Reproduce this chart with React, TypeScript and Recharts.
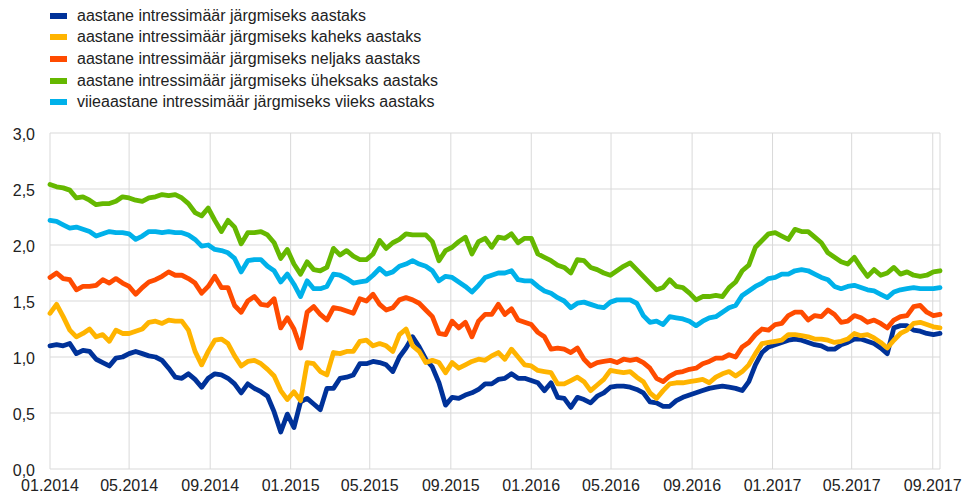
import React from 'react';
import { LineChart, Line, XAxis, YAxis, CartesianGrid, Legend } from 'recharts';

// Sample positions: days since 01.01.2014
const days = [
  0, 10, 20, 30, 40, 50, 60, 70, 80, 90,
  100, 110, 120, 130, 140, 150, 160, 170, 180, 190,
  200, 210, 220, 230, 240, 250, 260, 270, 280, 290,
  300, 310, 320, 330, 340, 350, 360, 370, 380, 390,
  400, 410, 420, 430, 440, 450, 460, 470, 480, 490,
  500, 510, 520, 530, 540, 550, 560, 570, 580, 590,
  600, 610, 620, 630, 640, 650, 660, 670, 680, 690,
  700, 710, 720, 730, 740, 750, 760, 770, 780, 790,
  800, 810, 820, 830, 840, 850, 860, 870, 880, 890,
  900, 910, 920, 930, 940, 950, 960, 970, 980, 990,
  1000, 1010, 1020, 1030, 1040, 1050, 1060, 1070, 1080, 1090,
  1100, 1110, 1120, 1130, 1140, 1150, 1160, 1170, 1180, 1190,
  1200, 1210, 1220, 1230, 1240, 1250, 1260, 1270, 1280, 1290,
  1300, 1310, 1320, 1330, 1340, 1350,
];

const tickDays = [0, 120, 243, 365, 485, 608, 730, 851, 974, 1096, 1216, 1339];
const tickLabels = [
  '01.2014', '05.2014', '09.2014', '01.2015', '05.2015', '09.2015',
  '01.2016', '05.2016', '09.2016', '01.2017', '05.2017', '09.2017',
];
const yTicks = [0, 0.5, 1, 1.5, 2, 2.5, 3];

const seriesNames = [
  'aastane intressimäär järgmiseks aastaks',
  'aastane intressimäär järgmiseks kaheks aastaks',
  'aastane intressimäär järgmiseks neljaks aastaks',
  'aastane intressimäär järgmiseks üheksaks aastaks',
  'viieaastane intressimäär järgmiseks viieks aastaks',
];
const seriesColors = ['#003299', '#FFB400', '#FF4B00', '#65B800', '#00B1EA'];

const oneYear = [
  1.10, 1.11, 1.10, 1.12, 1.03, 1.06, 1.05, 0.98, 0.95, 0.92,
  0.99, 1.00, 1.03, 1.05, 1.03, 1.01, 1.00, 0.97, 0.90, 0.82,
  0.81, 0.85, 0.80, 0.73, 0.81, 0.85, 0.84, 0.81, 0.76, 0.68,
  0.76, 0.72, 0.69, 0.65, 0.51, 0.33, 0.49, 0.37, 0.60, 0.63,
  0.58, 0.53, 0.72, 0.72, 0.81, 0.82, 0.84, 0.94, 0.94, 0.96,
  0.95, 0.93, 0.87, 1.00, 1.08, 1.18, 1.09, 0.98, 0.91, 0.77,
  0.57, 0.64, 0.63, 0.66, 0.68, 0.71, 0.76, 0.76, 0.80, 0.81,
  0.85, 0.81, 0.81, 0.79, 0.77, 0.70, 0.77, 0.64, 0.63, 0.55,
  0.64, 0.62, 0.59, 0.65, 0.68, 0.73, 0.74, 0.74, 0.73, 0.71,
  0.68, 0.60, 0.59, 0.56, 0.56, 0.61, 0.64, 0.66, 0.68, 0.70,
  0.72, 0.73, 0.74, 0.73, 0.72, 0.70, 0.78, 0.93, 1.04, 1.09,
  1.11, 1.13, 1.15, 1.16, 1.15, 1.13, 1.11, 1.10, 1.07, 1.07,
  1.11, 1.13, 1.16, 1.16, 1.14, 1.12, 1.08, 1.03, 1.26, 1.28,
  1.28, 1.24, 1.23, 1.21, 1.20, 1.21,
];

const twoYear = [
  1.39, 1.47, 1.36, 1.24, 1.18, 1.21, 1.25, 1.18, 1.20, 1.14,
  1.24, 1.21, 1.21, 1.23, 1.25, 1.31, 1.32, 1.30, 1.33, 1.32,
  1.32, 1.24, 1.05, 0.93, 1.05, 1.15, 1.16, 1.12, 1.01, 0.92,
  0.96, 0.97, 0.94, 0.89, 0.83, 0.70, 0.62, 0.69, 0.61, 0.95,
  0.94, 0.87, 0.84, 1.04, 1.03, 1.05, 1.05, 1.14, 1.15, 1.10,
  1.12, 1.10, 1.05, 1.20, 1.25, 1.10, 1.05, 0.95, 0.97, 0.95,
  0.86, 0.95, 0.90, 0.93, 0.96, 0.98, 0.97, 1.01, 1.04, 0.98,
  1.07, 1.00, 0.93, 0.92, 0.88, 0.87, 0.86, 0.76, 0.76, 0.79,
  0.82, 0.78, 0.70, 0.75, 0.80, 0.88, 0.87, 0.86, 0.87, 0.82,
  0.78, 0.68, 0.63, 0.70, 0.76, 0.77, 0.77, 0.78, 0.79, 0.80,
  0.77, 0.82, 0.85, 0.87, 0.83, 0.87, 0.93, 1.03, 1.12, 1.13,
  1.14, 1.15, 1.20, 1.20, 1.19, 1.18, 1.16, 1.16, 1.15, 1.13,
  1.14, 1.16, 1.21, 1.19, 1.20, 1.17, 1.13, 1.08, 1.15, 1.21,
  1.24, 1.30, 1.31, 1.29, 1.27, 1.26,
];

const fourYear = [
  1.71, 1.75, 1.70, 1.69, 1.60, 1.63, 1.63, 1.64, 1.69, 1.66,
  1.70, 1.66, 1.63, 1.56, 1.62, 1.67, 1.69, 1.72, 1.76, 1.73,
  1.73, 1.70, 1.66, 1.57, 1.63, 1.72, 1.62, 1.62, 1.46, 1.40,
  1.50, 1.54, 1.47, 1.46, 1.52, 1.26, 1.35, 1.25, 1.08, 1.40,
  1.45, 1.38, 1.33, 1.44, 1.43, 1.41, 1.39, 1.52, 1.50, 1.56,
  1.47, 1.42, 1.44, 1.51, 1.53, 1.51, 1.48, 1.42, 1.36, 1.21,
  1.20, 1.32, 1.26, 1.31, 1.18, 1.32, 1.38, 1.38, 1.47, 1.38,
  1.43, 1.33, 1.31, 1.29, 1.22, 1.18, 1.07, 1.08, 1.07, 1.04,
  1.08, 0.98, 0.92, 0.95, 0.96, 0.97, 0.95, 0.98, 0.97, 0.98,
  0.95, 0.90, 0.81, 0.78, 0.83, 0.86, 0.87, 0.89, 0.90, 0.94,
  0.96, 0.99, 0.99, 1.02, 1.00, 1.09, 1.13, 1.20, 1.25, 1.24,
  1.29, 1.30, 1.37, 1.40, 1.40, 1.33, 1.37, 1.36, 1.42, 1.38,
  1.31, 1.32, 1.37, 1.35, 1.31, 1.33, 1.30, 1.26, 1.33, 1.36,
  1.37, 1.45, 1.46, 1.40, 1.37, 1.38,
];

const nineYear = [
  2.54, 2.52, 2.51, 2.49, 2.42, 2.43, 2.40, 2.36, 2.37, 2.37,
  2.39, 2.43, 2.42, 2.40, 2.39, 2.42, 2.43, 2.45, 2.44, 2.45,
  2.42, 2.37, 2.29, 2.26, 2.33, 2.22, 2.12, 2.22, 2.16, 2.01,
  2.11, 2.11, 2.12, 2.09, 2.02, 1.88, 1.96, 1.83, 1.74, 1.85,
  1.78, 1.77, 1.80, 1.97, 1.91, 1.95, 1.90, 1.87, 1.87, 1.92,
  2.04, 1.97, 2.02, 2.05, 2.10, 2.09, 2.09, 2.09, 2.03, 1.86,
  1.95, 1.98, 2.03, 2.07, 1.92, 2.03, 2.06, 1.98, 2.07, 2.06,
  2.10, 2.02, 2.06, 2.06, 1.92, 1.89, 1.86, 1.82, 1.80, 1.75,
  1.87, 1.86, 1.80, 1.78, 1.75, 1.73, 1.77, 1.81, 1.84, 1.78,
  1.72, 1.66, 1.60, 1.62, 1.69, 1.63, 1.62, 1.57, 1.51, 1.54,
  1.54, 1.55, 1.54, 1.62, 1.67, 1.77, 1.82, 1.98, 2.04, 2.10,
  2.11, 2.08, 2.05, 2.14, 2.12, 2.12, 2.07, 2.02, 1.93, 1.89,
  1.85, 1.83, 1.89, 1.80, 1.72, 1.78, 1.73, 1.75, 1.80, 1.74,
  1.76, 1.73, 1.72, 1.73, 1.76, 1.77,
];

const fiveFive = [
  2.22, 2.21, 2.18, 2.15, 2.16, 2.14, 2.12, 2.08, 2.10, 2.12,
  2.11, 2.11, 2.10, 2.05, 2.08, 2.12, 2.12, 2.11, 2.12, 2.11,
  2.11, 2.09, 2.05, 1.99, 2.00, 1.96, 1.95, 1.93, 1.88, 1.76,
  1.86, 1.87, 1.87, 1.81, 1.77, 1.67, 1.74, 1.65, 1.54, 1.68,
  1.61, 1.61, 1.63, 1.74, 1.73, 1.70, 1.66, 1.67, 1.68, 1.73,
  1.79, 1.74, 1.76, 1.81, 1.83, 1.86, 1.83, 1.81, 1.77, 1.68,
  1.72, 1.71, 1.67, 1.63, 1.58, 1.64, 1.71, 1.73, 1.75, 1.75,
  1.77, 1.69, 1.68, 1.68, 1.63, 1.59, 1.57, 1.53, 1.50, 1.44,
  1.48, 1.49, 1.47, 1.45, 1.44, 1.49, 1.51, 1.51, 1.51, 1.48,
  1.37, 1.31, 1.32, 1.29, 1.36, 1.35, 1.34, 1.32, 1.28, 1.32,
  1.35, 1.36, 1.40, 1.44, 1.46, 1.55, 1.59, 1.63, 1.66, 1.70,
  1.71, 1.74, 1.74, 1.77, 1.78, 1.77, 1.74, 1.71, 1.69, 1.63,
  1.61, 1.63, 1.64, 1.62, 1.60, 1.59, 1.56, 1.53, 1.58, 1.60,
  1.61, 1.62, 1.61, 1.61, 1.61, 1.62,
];

const seriesValues = [oneYear, twoYear, fourYear, nineYear, fiveFive];
const seriesKeys = ['s1', 's2', 's4', 's9', 's55'];

const data = days.map((d, i) => {
  const row: Record<string, number> = { d };
  seriesKeys.forEach((k, j) => {
    row[k] = seriesValues[j][i];
  });
  return row;
});

const FONT = '"Liberation Sans", Arial, Helvetica, sans-serif';

const renderLegend = () => (
  <div style={{ fontFamily: FONT, fontSize: 16, color: '#222', whiteSpace: 'nowrap' }}>
    {seriesNames.map((name, i) => (
      <div key={name} style={{ display: 'flex', alignItems: 'center', height: 21.6 }}>
        <span
          style={{
            display: 'inline-block',
            width: 17,
            height: 6,
            background: seriesColors[i],
            marginRight: 10,
          }}
        />
        <span>{name}</span>
      </div>
    ))}
  </div>
);

const fmtY = (v: number) => v.toFixed(1).replace('.', ',');
const fmtX = (v: number) => {
  const idx = tickDays.indexOf(v);
  return idx >= 0 ? tickLabels[idx] : '';
};

export default function App() {
  return (
    <div style={{ position: 'absolute', left: 0, top: 0, width: 964, height: 494, background: '#fff' }}>
      <LineChart
        width={964}
        height={494}
        data={data}
        margin={{ top: 133, right: 24, bottom: 0, left: 0 }}
      >
        <CartesianGrid stroke="#d9d9d9" strokeWidth={1} />
        <XAxis
          type="number"
          dataKey="d"
          domain={[0, 1350]}
          ticks={tickDays}
          tickFormatter={fmtX}
          interval={0}
          height={25}
          axisLine={false}
          tickLine={false}
          tickSize={0}
          tickMargin={11}
          tick={{ fill: '#222', fontSize: 16, fontFamily: FONT }}
        />
        <YAxis
          type="number"
          domain={[0, 3]}
          ticks={yTicks}
          tickFormatter={fmtY}
          interval={0}
          width={50}
          axisLine={false}
          tickLine={false}
          tickSize={0}
          tickMargin={15}
          tick={{ fill: '#222', fontSize: 16, fontFamily: FONT, dy: 1 }}
        />
        <Legend
          layout="vertical"
          align="center"
          verticalAlign="middle"
          content={renderLegend}
          wrapperStyle={{ top: 5, left: 50, width: 'auto', height: 'auto' }}
        />
        {seriesKeys.map((k, i) => (
          <Line
            key={k}
            type="linear"
            dataKey={k}
            name={seriesNames[i]}
            stroke={seriesColors[i]}
            strokeWidth={4.8}
            strokeLinejoin="round"
            strokeLinecap="round"
            dot={false}
            activeDot={false}
            isAnimationActive={false}
          />
        ))}
      </LineChart>
    </div>
  );
}
